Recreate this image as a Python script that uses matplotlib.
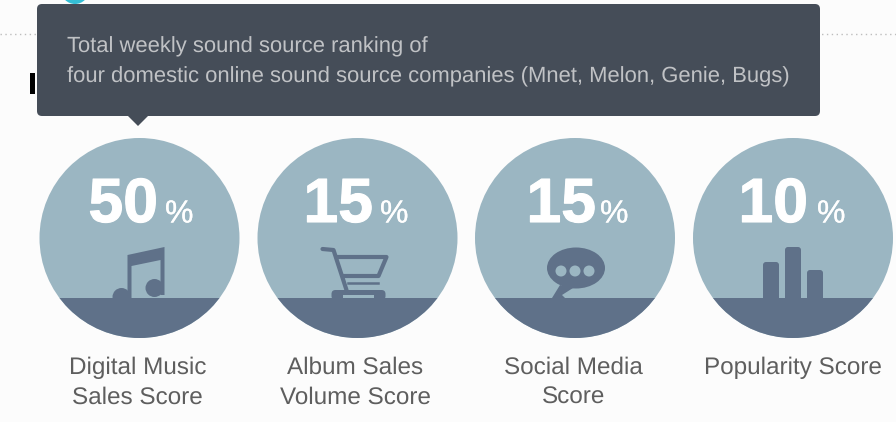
import matplotlib
matplotlib.use('Agg')
import matplotlib.pyplot as plt
import matplotlib.patheffects as pe
from matplotlib.patches import Circle, Rectangle, FancyBboxPatch, Polygon, Ellipse

plt.rcParams['font.family'] = ['Liberation Sans', 'DejaVu Sans']
plt.rcParams['text.hinting'] = 'no_hinting'

percents = ['50', '15', '15', '10']
labels = ['Digital Music\nSales Score', 'Album Sales\nVolume Score', 'Social Media\nScore', 'Popularity Score']
tooltip_lines = ['Total weekly sound source ranking of',
                 'four domestic online sound source companies (Mnet, Melon, Genie, Bugs)']
bar_heights = [36, 51, 28]

light = '#9bb6c2'
dark = '#5f7189'
text_grey = '#5e5e5e'
centers = [139.5, 357.5, 575, 793]
digit_right = [158, 373, 596, 808]
pct_left = [165, 380, 600, 817]
label_shift = [-2, -2, -1.5, 0]
cy = 238
radius = 100
band_y = 298

fig = plt.figure(figsize=(8.96, 4.22), dpi=100, facecolor='#fcfcfc')
ax = fig.add_axes([0, 0, 1, 1])
ax.set_xlim(0, 896)
ax.set_ylim(422, 0)
ax.axis('off')


def rounded(x, y, w, h, r, color, z=3):
    ax.add_patch(FancyBboxPatch((x + r, y + r), w - 2 * r, h - 2 * r,
                                boxstyle=f'round,pad={r},rounding_size={r}',
                                fc=color, ec='none', zorder=z))


def music(x):
    ax.add_patch(Polygon([(x - 12, 255), (x + 25, 247), (x + 25, 295), (x + 21, 295), (x + 21, 260),
                          (x - 8, 266), (x - 8, 298), (x - 12, 298)], fc=dark, ec='none', zorder=3))
    ax.add_patch(Circle((x - 18, 297), 9, fc=dark, ec='none', zorder=3))
    ax.add_patch(Circle((x + 15, 288), 9, fc=dark, ec='none', zorder=3))


def cart(x):
    ax.plot([x - 35, x - 24, x - 11], [249, 250, 290], color=dark, lw=3, solid_capstyle='round', zorder=3)
    ax.plot([x - 20, x + 29, x + 21, x - 14], [257, 257, 276, 276], color=dark, lw=3,
            solid_joinstyle='round', zorder=3)
    ax.plot([x - 10, x + 20], [283, 283], color=dark, lw=1.8, zorder=3)
    rounded(x - 26, 290, 54, 10, 4, dark)
    ax.add_patch(Rectangle((x - 15, 295), 31, 3, fc=light, ec='none', zorder=4))


def speech(x):
    ax.add_patch(Ellipse((x + 1, 268), 58, 41, fc=dark, ec='none', zorder=3))
    ax.add_patch(Polygon([(x - 15, 285), (x - 23, 298), (x - 10, 298), (x - 13, 295), (x - 2, 288)],
                         fc=dark, ec='none', zorder=3))
    for dx in [-14, 0, 14]:
        ax.add_patch(Circle((x + dx, 271), 5.5, fc=light, ec='none', zorder=4))


def bars(x):
    for left, h in zip([x - 30, x - 8, x + 14], bar_heights):
        rounded(left, band_y - h, 16, h + 3, 3, dark)


icons = [music, cart, speech, bars]

# dotted rule, the cyan dot and heading stub behind the tooltip
ax.plot([0, 896], [34, 34], color='#bdbdbd', lw=1, ls=(0, (1, 2.5)), zorder=1)
ax.add_patch(Circle((75, -10), 14, fc='#35bfd6', ec='none', zorder=1))
ax.add_patch(Rectangle((30, 73), 5, 21, fc='black', ec='none', zorder=1))

for i, x in enumerate(centers):
    disc = Circle((x, cy), radius, fc=light, ec='none', zorder=2)
    ax.add_patch(disc)
    band = Rectangle((x - radius, band_y), 2 * radius, 50, fc=dark, ec='none', zorder=2.5)
    ax.add_patch(band)
    band.set_clip_path(disc)
    icons[i](x)

    num = ax.text(digit_right[i], 222, percents[i], color='white', fontsize=45, fontweight='bold',
                  ha='right', va='baseline', zorder=5)
    num.set_path_effects([pe.withStroke(linewidth=0.8, foreground='white')])
    pct = ax.text(pct_left[i], 222.5, '%', color='white', fontsize=23, ha='left', va='baseline', zorder=5)
    pct.set_path_effects([pe.withStroke(linewidth=0.2, foreground='white')])
    for j, line in enumerate(labels[i].split('\n')):
        ax.text(x + label_shift[i], 374 + 30 * j, line, color=text_grey, fontsize=17.5,
                ha='center', va='baseline', zorder=5)

# tooltip
rounded(37, 4, 783, 112, 5, '#454d58', z=6)
ax.add_patch(Polygon([(128, 116), (148, 116), (138, 126)], fc='#454d58', ec='none', zorder=6))
for y, line in zip([52, 82], tooltip_lines):
    ax.text(67, y, line, color='#c0c2c5', fontsize=15.85, ha='left', va='baseline', zorder=7)

fig.savefig('out.png', dpi=100, facecolor=fig.get_facecolor())
